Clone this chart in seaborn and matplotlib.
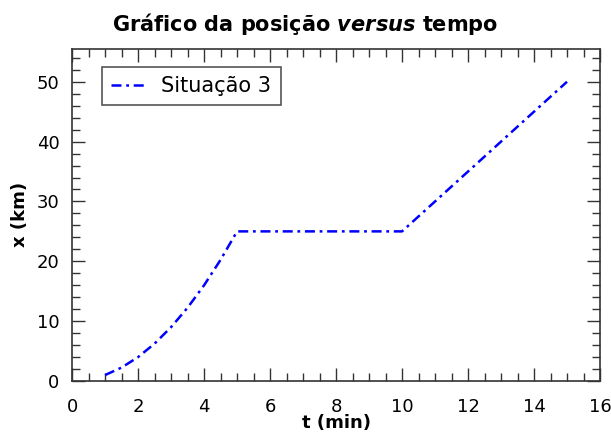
import matplotlib
matplotlib.use("Agg")
import matplotlib.pyplot as plt
from matplotlib.ticker import MultipleLocator
import pandas as pd
import seaborn as sns

# position vs time, situation 3
tempo = [1, 1.5, 2, 2.5, 3, 3.5, 4, 4.5, 5, 10, 15]
posicao = [1, 2.25, 4, 6.25, 9, 12.25, 16, 20.25, 25, 25, 50]
serie = "Situação 3"

sns.set_theme(style="ticks")
plt.rcParams["font.family"] = ["DejaVu Sans"]
plt.rcParams["mathtext.fontset"] = "dejavusans"
plt.rcParams["text.color"] = "black"
plt.rcParams["axes.labelcolor"] = "black"
plt.rcParams["lines.scale_dashes"] = False

df = pd.DataFrame({"t": tempo, "x": posicao, "serie": serie})

fig, ax = plt.subplots(figsize=(6.11, 4.32), dpi=100)
fig.subplots_adjust(left=0.118, right=0.982, top=0.887, bottom=0.118)

dash_dot = (0, (7.2, 3.4, 2.0, 3.4))
sns.lineplot(data=df, x="t", y="x", hue="serie", palette=["blue"],
             sort=False, linewidth=1.8, legend=False, ax=ax)
line = ax.lines[0]
line.set_linestyle(dash_dot)
line.set_label(serie)

ax.set_xlim(0, 16)
ax.set_ylim(0, 55.5)
ax.xaxis.set_major_locator(MultipleLocator(2))
ax.xaxis.set_minor_locator(MultipleLocator(0.5))
ax.yaxis.set_major_locator(MultipleLocator(10))
ax.yaxis.set_minor_locator(MultipleLocator(2))
ax.tick_params(which="both", direction="in", top=True, right=True,
               labelsize=13, colors="#333333", labelcolor="black", pad=9)
ax.tick_params(axis="x", which="both", pad=12)
ax.tick_params(which="major", length=9.5, width=1)
ax.tick_params(which="minor", length=5.5, width=1)
for s in ax.spines.values():
    s.set_color("#333333")
    s.set_linewidth(1.2)

fig.suptitle(r"Gráfico da posição $\mathbfit{versus}$ tempo",
             fontsize=15, fontweight="bold", x=0.5, y=0.975)
ax.set_xlabel("t (min)", fontsize=13, fontweight="bold", labelpad=-1)
ax.set_ylabel("x (km)", fontsize=13, fontweight="bold", labelpad=6)

leg = ax.legend(handles=[line], loc="upper left", fontsize=15,
                fancybox=False, edgecolor="#555555", framealpha=1,
                borderpad=0.45, handlelength=1.6, handletextpad=0.8,
                bbox_to_anchor=(0.037, 0.978))
leg.get_frame().set_linewidth(1.2)

fig.savefig("out.png", dpi=100)
